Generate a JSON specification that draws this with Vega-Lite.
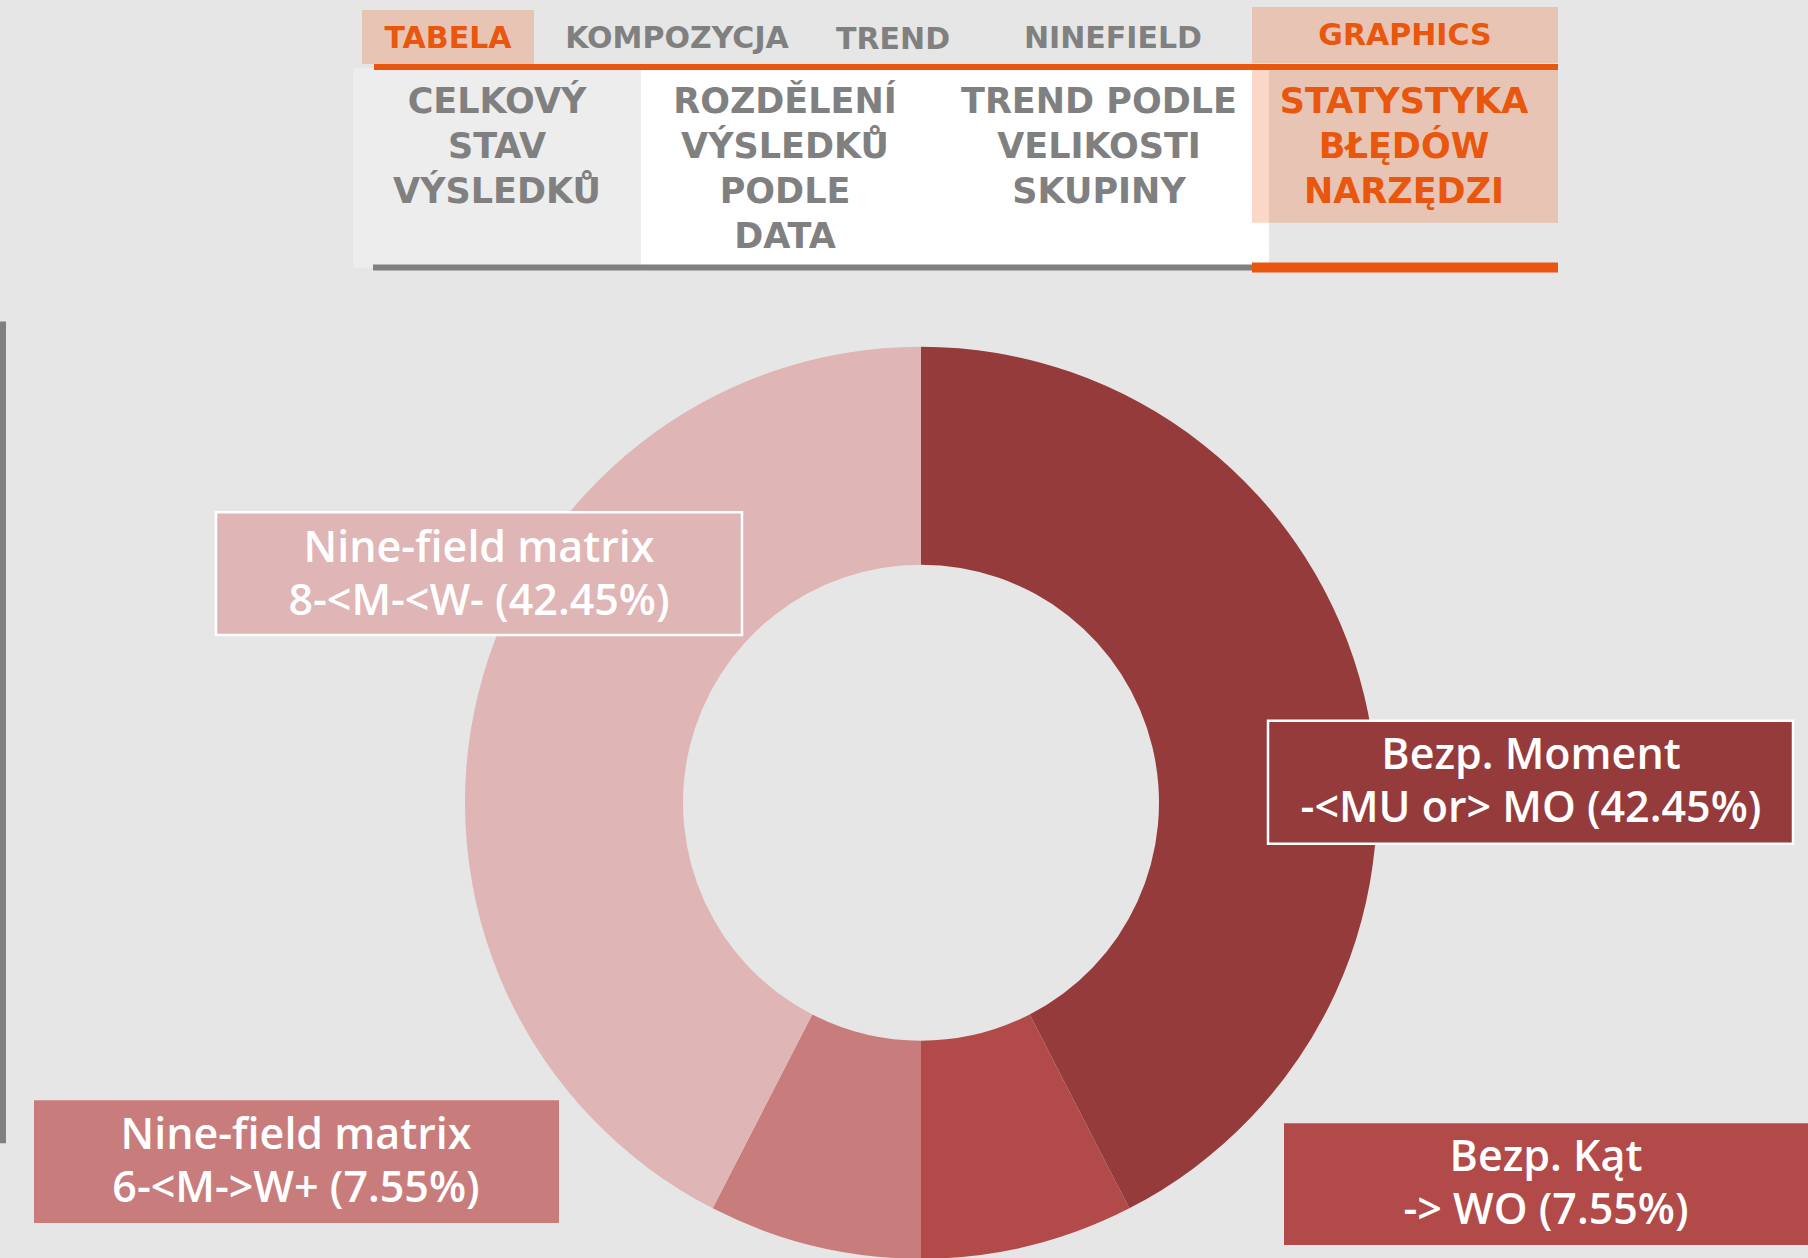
{
  "$schema": "https://vega.github.io/schema/vega-lite/v6.json",
  "width": 1808,
  "height": 1258,
  "autosize": {"type": "fit", "contains": "padding"},
  "padding": 0,
  "background": "#E6E6E6",
  "config": {"view": {"stroke": null}},
  "datasets": {
    "segments": [
      {"tool": "Bezp. Moment", "rule": "-<MU or> MO", "share": 42.45},
      {"tool": "Bezp. Kąt", "rule": "-> WO", "share": 7.55},
      {"tool": "Nine-field matrix", "rule": "6-<M->W+", "share": 7.55},
      {"tool": "Nine-field matrix", "rule": "8-<M-<W-", "share": 42.45}
    ]
  },
  "data": {"name": "segments"},
  "transform": [
    {"calculate": "datum.tool + '\\n' + datum.rule + ' (' + format(datum.share, '.2f') + '%)'", "as": "label"}
  ],
  "layer": [
    {
      "data": {"values": [{}]},
      "mark": {"type": "rect", "fill": "#EDEDED"},
      "encoding": {
        "x": {"datum": 353, "type": "quantitative", "scale": {"domain": [0, 1808], "nice": false, "zero": false}, "axis": null},
        "x2": {"datum": 641},
        "y": {"datum": 68, "type": "quantitative", "scale": {"domain": [0, 1258], "nice": false, "zero": false, "reverse": true}, "axis": null},
        "y2": {"datum": 268}
      }
    },
    {
      "data": {"values": [{}]},
      "mark": {"type": "rect", "fill": "#FFFFFF"},
      "encoding": {
        "x": {"datum": 641, "type": "quantitative", "scale": {"domain": [0, 1808], "nice": false, "zero": false}, "axis": null},
        "x2": {"datum": 1269},
        "y": {"datum": 68, "type": "quantitative", "scale": {"domain": [0, 1258], "nice": false, "zero": false, "reverse": true}, "axis": null},
        "y2": {"datum": 268}
      }
    },
    {
      "data": {"values": [{}]},
      "mark": {"type": "rect", "fill": "#E9560E", "opacity": 0.235},
      "encoding": {
        "x": {"datum": 362, "type": "quantitative", "scale": {"domain": [0, 1808], "nice": false, "zero": false}, "axis": null},
        "x2": {"datum": 534},
        "y": {"datum": 10, "type": "quantitative", "scale": {"domain": [0, 1258], "nice": false, "zero": false, "reverse": true}, "axis": null},
        "y2": {"datum": 64}
      }
    },
    {
      "data": {"values": [{}]},
      "mark": {"type": "rect", "fill": "#E9560E", "opacity": 0.235},
      "encoding": {
        "x": {"datum": 1252, "type": "quantitative", "scale": {"domain": [0, 1808], "nice": false, "zero": false}, "axis": null},
        "x2": {"datum": 1558},
        "y": {"datum": 7, "type": "quantitative", "scale": {"domain": [0, 1258], "nice": false, "zero": false, "reverse": true}, "axis": null},
        "y2": {"datum": 63}
      }
    },
    {
      "data": {"values": [{}]},
      "mark": {"type": "rect", "fill": "#E9560E", "opacity": 0.235},
      "encoding": {
        "x": {"datum": 1252, "type": "quantitative", "scale": {"domain": [0, 1808], "nice": false, "zero": false}, "axis": null},
        "x2": {"datum": 1558},
        "y": {"datum": 69, "type": "quantitative", "scale": {"domain": [0, 1258], "nice": false, "zero": false, "reverse": true}, "axis": null},
        "y2": {"datum": 223}
      }
    },
    {
      "data": {"values": [{}]},
      "mark": {"type": "rect", "fill": "#E9560E"},
      "encoding": {
        "x": {"datum": 374, "type": "quantitative", "scale": {"domain": [0, 1808], "nice": false, "zero": false}, "axis": null},
        "x2": {"datum": 1558},
        "y": {"datum": 64, "type": "quantitative", "scale": {"domain": [0, 1258], "nice": false, "zero": false, "reverse": true}, "axis": null},
        "y2": {"datum": 70}
      }
    },
    {
      "data": {"values": [{}]},
      "mark": {"type": "rect", "fill": "#808080"},
      "encoding": {
        "x": {"datum": 373, "type": "quantitative", "scale": {"domain": [0, 1808], "nice": false, "zero": false}, "axis": null},
        "x2": {"datum": 1252},
        "y": {"datum": 265, "type": "quantitative", "scale": {"domain": [0, 1258], "nice": false, "zero": false, "reverse": true}, "axis": null},
        "y2": {"datum": 271}
      }
    },
    {
      "data": {"values": [{}]},
      "mark": {"type": "rect", "fill": "#E9560E"},
      "encoding": {
        "x": {"datum": 1252, "type": "quantitative", "scale": {"domain": [0, 1808], "nice": false, "zero": false}, "axis": null},
        "x2": {"datum": 1558},
        "y": {"datum": 263, "type": "quantitative", "scale": {"domain": [0, 1258], "nice": false, "zero": false, "reverse": true}, "axis": null},
        "y2": {"datum": 273}
      }
    },
    {
      "data": {"values": [{}]},
      "mark": {"type": "rect", "fill": "#808080"},
      "encoding": {
        "x": {"datum": 0, "type": "quantitative", "scale": {"domain": [0, 1808], "nice": false, "zero": false}, "axis": null},
        "x2": {"datum": 6},
        "y": {"datum": 322, "type": "quantitative", "scale": {"domain": [0, 1258], "nice": false, "zero": false, "reverse": true}, "axis": null},
        "y2": {"datum": 1145}
      }
    },
    {
      "data": {"values": [{}]},
      "mark": {"type": "text", "font": "DejaVu Sans", "fontWeight": "bold", "fontSize": 30, "align": "center", "baseline": "alphabetic", "fill": "#E9560E"},
      "encoding": {
        "x": {"datum": 448, "type": "quantitative", "scale": {"domain": [0, 1808], "nice": false, "zero": false}, "axis": null},
        "y": {"datum": 48, "type": "quantitative", "scale": {"domain": [0, 1258], "nice": false, "zero": false, "reverse": true}, "axis": null},
        "text": {"value": "TABELA"}
      }
    },
    {
      "data": {"values": [{}]},
      "mark": {"type": "text", "font": "DejaVu Sans", "fontWeight": "bold", "fontSize": 30, "align": "center", "baseline": "alphabetic", "fill": "#808080"},
      "encoding": {
        "x": {"datum": 677, "type": "quantitative", "scale": {"domain": [0, 1808], "nice": false, "zero": false}, "axis": null},
        "y": {"datum": 48, "type": "quantitative", "scale": {"domain": [0, 1258], "nice": false, "zero": false, "reverse": true}, "axis": null},
        "text": {"value": "KOMPOZYCJA"}
      }
    },
    {
      "data": {"values": [{}]},
      "mark": {"type": "text", "font": "DejaVu Sans", "fontWeight": "bold", "fontSize": 30, "align": "center", "baseline": "alphabetic", "fill": "#808080"},
      "encoding": {
        "x": {"datum": 893, "type": "quantitative", "scale": {"domain": [0, 1808], "nice": false, "zero": false}, "axis": null},
        "y": {"datum": 49, "type": "quantitative", "scale": {"domain": [0, 1258], "nice": false, "zero": false, "reverse": true}, "axis": null},
        "text": {"value": "TREND"}
      }
    },
    {
      "data": {"values": [{}]},
      "mark": {"type": "text", "font": "DejaVu Sans", "fontWeight": "bold", "fontSize": 30, "align": "center", "baseline": "alphabetic", "fill": "#808080"},
      "encoding": {
        "x": {"datum": 1113, "type": "quantitative", "scale": {"domain": [0, 1808], "nice": false, "zero": false}, "axis": null},
        "y": {"datum": 48, "type": "quantitative", "scale": {"domain": [0, 1258], "nice": false, "zero": false, "reverse": true}, "axis": null},
        "text": {"value": "NINEFIELD"}
      }
    },
    {
      "data": {"values": [{}]},
      "mark": {"type": "text", "font": "DejaVu Sans", "fontWeight": "bold", "fontSize": 30, "align": "center", "baseline": "alphabetic", "fill": "#E9560E"},
      "encoding": {
        "x": {"datum": 1405, "type": "quantitative", "scale": {"domain": [0, 1808], "nice": false, "zero": false}, "axis": null},
        "y": {"datum": 45, "type": "quantitative", "scale": {"domain": [0, 1258], "nice": false, "zero": false, "reverse": true}, "axis": null},
        "text": {"value": "GRAPHICS"}
      }
    },
    {
      "data": {"values": [{}]},
      "mark": {"type": "text", "font": "DejaVu Sans", "fontWeight": "bold", "fontSize": 35, "lineHeight": 45, "lineBreak": "\n", "align": "center", "baseline": "alphabetic", "fill": "#808080"},
      "encoding": {
        "x": {"datum": 497, "type": "quantitative", "scale": {"domain": [0, 1808], "nice": false, "zero": false}, "axis": null},
        "y": {"datum": 113, "type": "quantitative", "scale": {"domain": [0, 1258], "nice": false, "zero": false, "reverse": true}, "axis": null},
        "text": {"value": "CELKOVÝ\nSTAV\nVÝSLEDKŮ"}
      }
    },
    {
      "data": {"values": [{}]},
      "mark": {"type": "text", "font": "DejaVu Sans", "fontWeight": "bold", "fontSize": 35, "lineHeight": 45, "lineBreak": "\n", "align": "center", "baseline": "alphabetic", "fill": "#808080"},
      "encoding": {
        "x": {"datum": 785, "type": "quantitative", "scale": {"domain": [0, 1808], "nice": false, "zero": false}, "axis": null},
        "y": {"datum": 113, "type": "quantitative", "scale": {"domain": [0, 1258], "nice": false, "zero": false, "reverse": true}, "axis": null},
        "text": {"value": "ROZDĚLENÍ\nVÝSLEDKŮ\nPODLE\nDATA"}
      }
    },
    {
      "data": {"values": [{}]},
      "mark": {"type": "text", "font": "DejaVu Sans", "fontWeight": "bold", "fontSize": 35, "lineHeight": 45, "lineBreak": "\n", "align": "center", "baseline": "alphabetic", "fill": "#808080"},
      "encoding": {
        "x": {"datum": 1099, "type": "quantitative", "scale": {"domain": [0, 1808], "nice": false, "zero": false}, "axis": null},
        "y": {"datum": 113, "type": "quantitative", "scale": {"domain": [0, 1258], "nice": false, "zero": false, "reverse": true}, "axis": null},
        "text": {"value": "TREND PODLE\nVELIKOSTI\nSKUPINY"}
      }
    },
    {
      "data": {"values": [{}]},
      "mark": {"type": "text", "font": "DejaVu Sans", "fontWeight": "bold", "fontSize": 35, "lineHeight": 45, "lineBreak": "\n", "align": "center", "baseline": "alphabetic", "fill": "#E9560E"},
      "encoding": {
        "x": {"datum": 1404, "type": "quantitative", "scale": {"domain": [0, 1808], "nice": false, "zero": false}, "axis": null},
        "y": {"datum": 113, "type": "quantitative", "scale": {"domain": [0, 1258], "nice": false, "zero": false, "reverse": true}, "axis": null},
        "text": {"value": "STATYSTYKA\nBŁĘDÓW\nNARZĘDZI"}
      }
    },
    {
      "mark": {"type": "arc", "innerRadius": 238, "outerRadius": 456},
      "encoding": {
        "theta": {"field": "share", "type": "quantitative", "stack": true},
        "color": {"field": "rule", "type": "nominal", "scale": {"domain": ["-<MU or> MO", "-> WO", "6-<M->W+", "8-<M-<W-"], "range": ["#963B3C", "#B14A48", "#C97C7C", "#DFB5B5"]}, "legend": null},
        "order": {"field": "rule", "type": "ordinal"},
        "x": {"datum": 921, "type": "quantitative", "scale": {"domain": [0, 1808], "nice": false, "zero": false}, "axis": null},
        "y": {"datum": 804, "type": "quantitative", "scale": {"domain": [0, 1258], "nice": false, "zero": false, "reverse": true}, "axis": null}
      }
    },
    {
      "transform": [{"filter": "datum.rule === '8-<M-<W-'"}],
      "mark": {"type": "rect", "stroke": "#FFFFFF", "strokeWidth": 2.5},
      "encoding": {
        "color": {"field": "rule", "type": "nominal", "legend": null},
        "x": {"datum": 216, "type": "quantitative", "scale": {"domain": [0, 1808], "nice": false, "zero": false}, "axis": null},
        "x2": {"datum": 742},
        "y": {"datum": 513, "type": "quantitative", "scale": {"domain": [0, 1258], "nice": false, "zero": false, "reverse": true}, "axis": null},
        "y2": {"datum": 636}
      }
    },
    {
      "transform": [{"filter": "datum.rule === '-<MU or> MO'"}],
      "mark": {"type": "rect", "stroke": "#FFFFFF", "strokeWidth": 2.5},
      "encoding": {
        "color": {"field": "rule", "type": "nominal", "legend": null},
        "x": {"datum": 1268, "type": "quantitative", "scale": {"domain": [0, 1808], "nice": false, "zero": false}, "axis": null},
        "x2": {"datum": 1793},
        "y": {"datum": 722, "type": "quantitative", "scale": {"domain": [0, 1258], "nice": false, "zero": false, "reverse": true}, "axis": null},
        "y2": {"datum": 845}
      }
    },
    {
      "transform": [{"filter": "datum.rule === '6-<M->W+'"}],
      "mark": {"type": "rect"},
      "encoding": {
        "color": {"field": "rule", "type": "nominal", "legend": null},
        "x": {"datum": 34, "type": "quantitative", "scale": {"domain": [0, 1808], "nice": false, "zero": false}, "axis": null},
        "x2": {"datum": 559},
        "y": {"datum": 1102, "type": "quantitative", "scale": {"domain": [0, 1258], "nice": false, "zero": false, "reverse": true}, "axis": null},
        "y2": {"datum": 1225}
      }
    },
    {
      "transform": [{"filter": "datum.rule === '-> WO'"}],
      "mark": {"type": "rect"},
      "encoding": {
        "color": {"field": "rule", "type": "nominal", "legend": null},
        "x": {"datum": 1284, "type": "quantitative", "scale": {"domain": [0, 1808], "nice": false, "zero": false}, "axis": null},
        "x2": {"datum": 1808},
        "y": {"datum": 1125, "type": "quantitative", "scale": {"domain": [0, 1258], "nice": false, "zero": false, "reverse": true}, "axis": null},
        "y2": {"datum": 1247}
      }
    },
    {
      "transform": [{"filter": "datum.rule === '8-<M-<W-'"}],
      "mark": {"type": "text", "font": "Open Sans", "fontWeight": 600, "fontSize": 43, "lineHeight": 53, "lineBreak": "\n", "align": "center", "baseline": "alphabetic", "fill": "#FFFFFF"},
      "encoding": {
        "text": {"field": "label", "type": "nominal"},
        "x": {"datum": 479, "type": "quantitative", "scale": {"domain": [0, 1808], "nice": false, "zero": false}, "axis": null},
        "y": {"datum": 562.5, "type": "quantitative", "scale": {"domain": [0, 1258], "nice": false, "zero": false, "reverse": true}, "axis": null}
      }
    },
    {
      "transform": [{"filter": "datum.rule === '-<MU or> MO'"}],
      "mark": {"type": "text", "font": "Open Sans", "fontWeight": 600, "fontSize": 43, "lineHeight": 53, "lineBreak": "\n", "align": "center", "baseline": "alphabetic", "fill": "#FFFFFF"},
      "encoding": {
        "text": {"field": "label", "type": "nominal"},
        "x": {"datum": 1531, "type": "quantitative", "scale": {"domain": [0, 1808], "nice": false, "zero": false}, "axis": null},
        "y": {"datum": 770.5, "type": "quantitative", "scale": {"domain": [0, 1258], "nice": false, "zero": false, "reverse": true}, "axis": null}
      }
    },
    {
      "transform": [{"filter": "datum.rule === '6-<M->W+'"}],
      "mark": {"type": "text", "font": "Open Sans", "fontWeight": 600, "fontSize": 43, "lineHeight": 53, "lineBreak": "\n", "align": "center", "baseline": "alphabetic", "fill": "#FFFFFF"},
      "encoding": {
        "text": {"field": "label", "type": "nominal"},
        "x": {"datum": 296, "type": "quantitative", "scale": {"domain": [0, 1808], "nice": false, "zero": false}, "axis": null},
        "y": {"datum": 1150.5, "type": "quantitative", "scale": {"domain": [0, 1258], "nice": false, "zero": false, "reverse": true}, "axis": null}
      }
    },
    {
      "transform": [{"filter": "datum.rule === '-> WO'"}],
      "mark": {"type": "text", "font": "Open Sans", "fontWeight": 600, "fontSize": 43, "lineHeight": 53, "lineBreak": "\n", "align": "center", "baseline": "alphabetic", "fill": "#FFFFFF"},
      "encoding": {
        "text": {"field": "label", "type": "nominal"},
        "x": {"datum": 1546, "type": "quantitative", "scale": {"domain": [0, 1808], "nice": false, "zero": false}, "axis": null},
        "y": {"datum": 1172.5, "type": "quantitative", "scale": {"domain": [0, 1258], "nice": false, "zero": false, "reverse": true}, "axis": null}
      }
    }
  ]
}
